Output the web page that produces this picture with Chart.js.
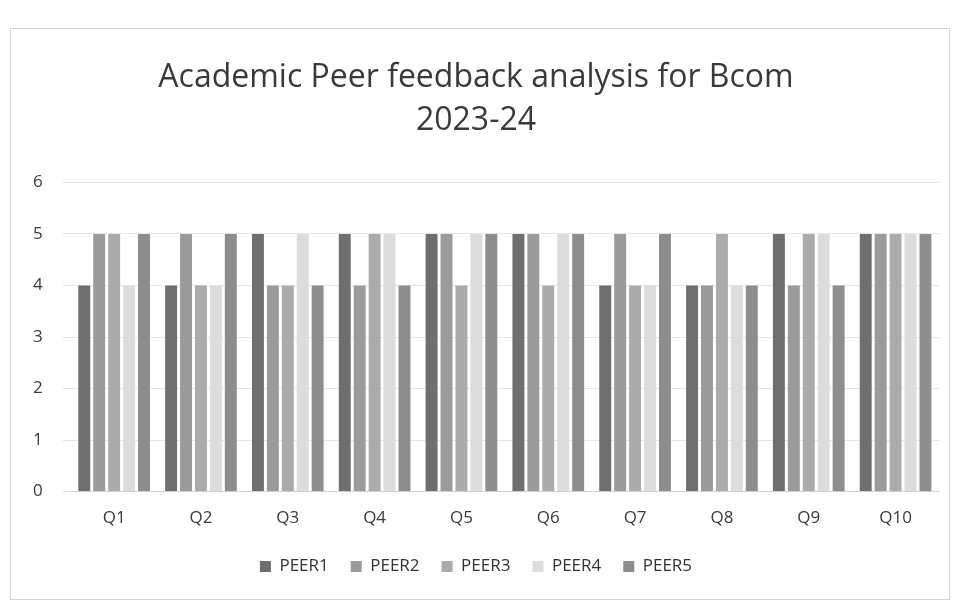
<!DOCTYPE html>
<html>
<head>
<meta charset="utf-8">
<script src="https://cdn.jsdelivr.net/npm/chart.js@4.4.0/dist/chart.umd.min.js"></script>
<style>
  html, body { margin: 0; padding: 0; background: #fff; }
  #wrap { position: absolute; left: 10px; top: 28px; width: 938px; height: 570px; border: 1px solid #d4d4d4; background: #fff; }
</style>
</head>
<body>
<div id="wrap"><canvas id="peerChart"></canvas></div>
<script>
const questions = ['Q1', 'Q2', 'Q3', 'Q4', 'Q5', 'Q6', 'Q7', 'Q8', 'Q9', 'Q10'];
const peer1 = [4, 4, 5, 5, 5, 5, 4, 4, 5, 5];
const peer2 = [5, 5, 4, 4, 5, 5, 5, 4, 4, 5];
const peer3 = [5, 4, 4, 5, 4, 4, 4, 5, 5, 5];
const peer4 = [4, 4, 5, 5, 5, 5, 4, 4, 5, 5];
const peer5 = [5, 5, 4, 4, 5, 5, 5, 4, 4, 5];
const yTicks = [0, 1, 2, 3, 4, 5, 6];

const ctx = document.getElementById('peerChart').getContext('2d');
new Chart(ctx, {
    type: 'bar',
    data: {
        labels: questions,
        datasets: [
            { label: 'PEER1', data: peer1, backgroundColor: '#6f6f6f' },
            { label: 'PEER2', data: peer2, backgroundColor: '#9b9b9b' },
            { label: 'PEER3', data: peer3, backgroundColor: '#ababab' },
            { label: 'PEER4', data: peer4, backgroundColor: '#dcdcdc' },
            { label: 'PEER5', data: peer5, backgroundColor: '#8d8d8d' }
        ]
    },
    options: {
        responsive: true,
        maintainAspectRatio: false,
        animation: false,
        layout: { padding: { left: 2, right: 10, top: 23, bottom: 14 } },
        datasets: { bar: { categoryPercentage: 0.86, barPercentage: 0.8 } },
        plugins: {
            title: {
                display: true,
                text: ['Academic Peer feedback analysis for Bcom', '2023-24'],
                color: '#3a3a3a',
                font: { family: 'Open Sans', size: 32, weight: 'normal', lineHeight: 1.35 },
                padding: { top: 4, bottom: 40 }
            },
            legend: {
                position: 'bottom',
                labels: {
                    color: '#333',
                    font: { family: 'Open Sans', size: 17 },
                    boxWidth: 11,
                    boxHeight: 11,
                    padding: 22
                }
            },
            tooltip: { enabled: false }
        },
        scales: {
            x: {
                grid: { display: false },
                border: { color: '#cfcfcf' },
                ticks: { color: '#3a3a3a', font: { family: 'Open Sans', size: 17 }, padding: 8 }
            },
            y: {
                min: 0,
                max: 6,
                afterBuildTicks: axis => { axis.ticks = yTicks.map(v => ({ value: v })); },
                grid: { color: '#e6e6e6' },
                border: { display: false },
                ticks: { color: '#3a3a3a', font: { family: 'Open Sans', size: 17 }, padding: 20 }
            }
        }
    }
});
</script>
</body>
</html>
